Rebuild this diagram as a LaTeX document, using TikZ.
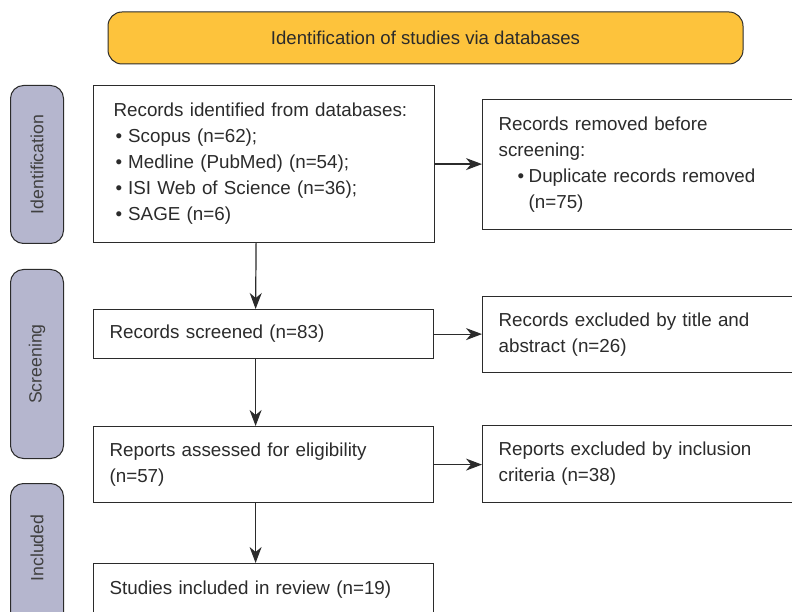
\documentclass[tikz,border=0pt]{standalone}
\usepackage{fontspec}
\setmainfont{Liberation Sans}
\usetikzlibrary{arrows.meta,calc}
\definecolor{bannerfill}{HTML}{FDC33C}
\definecolor{pillfill}{HTML}{B5B6CE}
\definecolor{ink}{HTML}{2B2B2B}
\definecolor{pillink}{HTML}{404040}
\begin{document}
\begin{tikzpicture}[x=1pt,y=-1pt,
  box/.style={draw=ink,line width=1.2pt,rectangle,inner xsep=16pt,inner ysep=0pt,
    align=left,anchor=north west,text=ink,font=\fontsize{18.8}{26}\selectfont},
  pill/.style={draw=ink,line width=1pt,fill=pillfill,rounded corners=13pt,
    minimum width=53pt,anchor=north west,inner sep=0pt},
  pilltext/.style={rotate=90,text=pillink,font=\fontsize{17.7}{20}\selectfont},
  banner/.style={draw=ink,line width=1pt,fill=bannerfill,rounded corners=14pt,
    minimum width=635pt,minimum height=52pt,text=ink,font=\fontsize{18.6}{22}\selectfont},
  conn/.style={draw=ink,line width=1.2pt,-{Stealth[length=16pt,width=12pt,inset=5pt]}}]
\useasboundingbox (0,0) rectangle (792,612);
\clip (0,0) rectangle (792,612);
\fill[white] (0,0) rectangle (792,612);

% banner
\node[banner] (top) at (425.5,38) {Identification of studies via databases};

% side pills
\node[pill,minimum height=158pt] (pid) at (10,85) {};
\node[pilltext] (tid) at (pid.center) {Identification};
\node[pill,minimum height=189pt] (psc) at (10,269) {};
\node[pilltext] (tsc) at (psc.center) {Screening};
\node[pill,minimum height=145pt] (pin) at (10,483) {};
\node[pilltext] (tin) at ($(pin.north)+(0,65)$) {Included};

% main column
\node[box,inner xsep=20pt,text width=301pt,minimum height=157pt] (b1) at (93,85)
  {Records identified from databases:\\
   \hspace*{2pt}\textbullet\hspace{6pt}Scopus (n=62);\\
   \hspace*{2pt}\textbullet\hspace{6pt}Medline (PubMed) (n=54);\\
   \hspace*{2pt}\textbullet\hspace{6pt}ISI Web of Science (n=36);\\
   \hspace*{2pt}\textbullet\hspace{6pt}SAGE (n=6)};
\node[box,text width=308pt,minimum height=49pt] (b3) at (93,309)
  {Records screened (n=83)};
\node[box,text width=308pt,minimum height=76pt] (b5) at (93,426)
  {Reports assessed for eligibility\\(n=57)};
\node[box,text width=308pt,minimum height=52pt] (b7) at (93,563)
  {Studies included in review (n=19)};

% right column
\node[box,text width=290pt,minimum height=130pt] (b2) at (482,99)
  {Records removed before\\screening:\\
   \hspace*{19pt}\textbullet\hspace{4.5pt}Duplicate records removed\\
   \hspace*{30pt}(n=75)};
\node[box,text width=290pt,minimum height=76pt] (b4) at (482,296)
  {Records excluded by title and\\abstract (n=26)};
\node[box,text width=290pt,minimum height=77pt] (b6) at (482,425)
  {Reports excluded by inclusion\\criteria (n=38)};

% connectors
\draw[conn] (b1.east) -- (b1.east -| b2.west);
\draw[conn] (b3.east) -- (b3.east -| b4.west);
\draw[conn] (b5.east) -- (b5.east -| b6.west);
\draw[conn] ([xshift=-8pt]b1.south) -- ([xshift=-8pt]b3.north);
\draw[conn] ([xshift=-8pt]b3.south) -- ([xshift=-8pt]b5.north);
\draw[conn] ([xshift=-8pt]b5.south) -- ([xshift=-8pt]b7.north);
\end{tikzpicture}
\end{document}
